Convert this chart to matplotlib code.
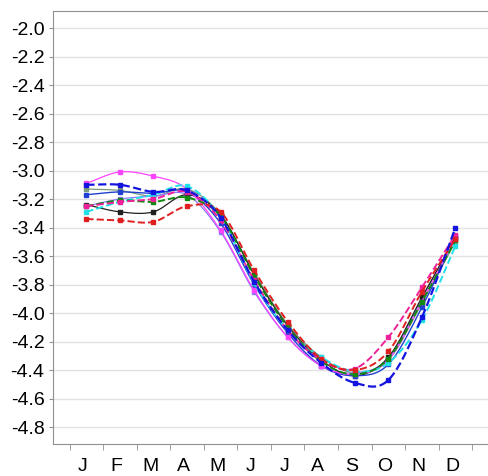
import numpy as np
import matplotlib
matplotlib.use('Agg')
import matplotlib.pyplot as plt

plt.rcParams['font.family'] = ['Liberation Sans', 'DejaVu Sans']

# Monthly values
months = ['J', 'F', 'M', 'A', 'M', 'J', 'J', 'A', 'S', 'O', 'N', 'D']
magenta_solid = [-3.09, -3.01, -3.04, -3.13, -3.42, -3.84, -4.17, -4.37, -4.43, -4.33, -3.92, -3.47]
blue_dashed = [-3.10, -3.10, -3.15, -3.14, -3.33, -3.78, -4.12, -4.35, -4.49, -4.47, -4.03, -3.40]
blue_solid = [-3.17, -3.15, -3.16, -3.15, -3.37, -3.80, -4.14, -4.37, -4.44, -4.36, -3.96, -3.46]
black_solid = [-3.24, -3.29, -3.29, -3.17, -3.31, -3.73, -4.09, -4.33, -4.44, -4.31, -3.89, -3.47]
green_dashed = [-3.25, -3.21, -3.22, -3.19, -3.32, -3.74, -4.10, -4.34, -4.43, -4.32, -3.92, -3.49]
pink_dashed = [-3.25, -3.22, -3.20, -3.15, -3.35, -3.77, -4.12, -4.33, -4.39, -4.17, -3.82, -3.45]
cyan_dashed = [-3.29, -3.22, -3.17, -3.11, -3.33, -3.79, -4.12, -4.31, -4.41, -4.35, -4.05, -3.53]
red_dashed = [-3.34, -3.35, -3.36, -3.25, -3.29, -3.70, -4.06, -4.32, -4.40, -4.27, -3.85, -3.48]
grey_solid = [-3.13, -3.14, -3.18, -3.13, -3.31, -3.72, -4.08, -4.31, -4.42, -4.33, -3.93, -3.50]
violet_solid = [-3.25, -3.20, -3.18, -3.17, -3.43, -3.85, -4.17, -4.37, -4.42, -4.32, -3.90, -3.46]

series = [
    (grey_solid, '#7a9a7a', '-', 0.9),
    (violet_solid, '#8a78ff', '-', 0.9),
    (black_solid, '#202020', '-', 0.9),
    (blue_solid, '#2040d0', '-', 1.0),
    (magenta_solid, '#ff44ff', '-', 0.9),
    (cyan_dashed, '#20e0e8', '--', 1.4),
    (green_dashed, '#108a10', '--', 1.4),
    (pink_dashed, '#f0209a', '--', 1.4),
    (red_dashed, '#e02020', '--', 1.4),
    (blue_dashed, '#1414e0', '--', 1.6),
]


def smooth(x, y, n=20):
    # Catmull-Rom curve through the points, for drawing only
    x = np.asarray(x, float)
    y = np.asarray(y, float)
    yp = np.concatenate([[2 * y[0] - y[1]], y, [2 * y[-1] - y[-2]]])
    xs, ys = [], []
    for i in range(len(x) - 1):
        p0, p1, p2, p3 = yp[i], yp[i + 1], yp[i + 2], yp[i + 3]
        t = np.linspace(0, 1, n, endpoint=False)
        ys.append(0.5 * (2 * p1 + (-p0 + p2) * t + (2 * p0 - 5 * p1 + 4 * p2 - p3) * t ** 2
                         + (-p0 + 3 * p1 - 3 * p2 + p3) * t ** 3))
        xs.append(x[i] + (x[i + 1] - x[i]) * t)
    xs.append([x[-1]])
    ys.append([y[-1]])
    return np.concatenate(xs), np.concatenate(ys)


fig = plt.figure(figsize=(4.89, 4.76), dpi=100)
ax = fig.add_axes([0.108, 0.067, 0.892, 0.91])

x = np.arange(1, 13)
for vals, color, ls, lw in series:
    sx, sy = smooth(x, vals)
    ax.plot(sx, sy, color=color, linestyle=ls, linewidth=lw)
    ax.plot(x, vals, linestyle='none', marker='s', markersize=3, color=color)

ax.set_xlim(0, 13.0)
ax.set_ylim(-4.92, -1.88)
ax.set_yticks(np.arange(-4.8, -1.9, 0.2))
ax.set_yticklabels(['%.1f' % v for v in np.arange(-4.8, -1.9, 0.2)])
ax.set_xticks(x - 0.1)
ax.set_xticklabels(months)
ax.set_xticks(np.arange(0.5, 13, 1), minor=True)
ax.tick_params(axis='x', which='major', length=0, pad=10, labelsize=14)
ax.tick_params(axis='x', which='minor', length=4, color='#909090')
ax.tick_params(axis='y', length=3, color='#909090', labelsize=14, pad=3)
ax.yaxis.grid(True, color='#e2e2e2', linewidth=1)
ax.set_axisbelow(True)
for side in ['left', 'bottom', 'top']:
    ax.spines[side].set_color('#909090')
ax.spines['right'].set_visible(False)

fig.savefig('out.png', dpi=100)
